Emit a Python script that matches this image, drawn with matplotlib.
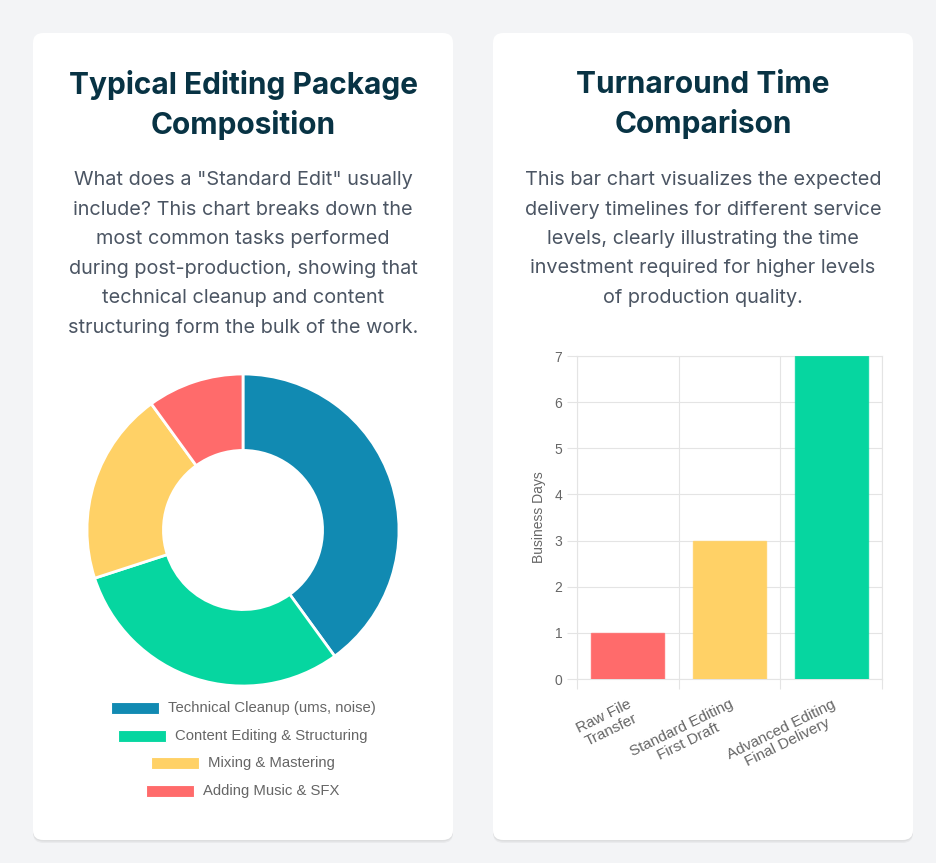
import matplotlib
matplotlib.use("Agg")
import matplotlib.pyplot as plt
from matplotlib.patches import FancyBboxPatch, Rectangle

# ---- data ----
task_labels = ["Technical Cleanup (ums, noise)", "Content Editing & Structuring",
               "Mixing & Mastering", "Adding Music & SFX"]
task_share = [40, 30, 20, 10]
task_colors = ["#118ab2", "#06d6a0", "#ffd166", "#ff6b6b"]

service_labels = ["Raw File\nTransfer", "Standard Editing\nFirst Draft",
                  "Advanced Editing\nFinal Delivery"]
service_days = [1, 3, 7]
service_colors = ["#ff6b6b", "#ffd166", "#06d6a0"]

W, H = 936, 863
BG = "#f3f4f6"
TITLE_C = "#083344"
BODY_C = "#4b5563"
CHART_TXT = "#666666"
GRID_C = "#e4e4e4"


def fx(x):
    return x / W


def fy(y):
    return 1 - y / H


fig = plt.figure(figsize=(W / 100, H / 100), dpi=100, facecolor=BG)

# ---- cards (kept behind the axes) ----
for left in (33, 493):
    for off, a in ((3, 0.04), (1.5, 0.05)):
        sh = FancyBboxPatch((fx(left), fy(840 + off)), fx(420), 807 / H,
                            boxstyle="round,pad=0,rounding_size=0.011",
                            transform=fig.transFigure, facecolor="#000000",
                            edgecolor="none", alpha=a, zorder=-10)
        fig.add_artist(sh)
    card = FancyBboxPatch((fx(left), fy(840)), fx(420), 807 / H,
                          boxstyle="round,pad=0,rounding_size=0.011",
                          transform=fig.transFigure, facecolor="white",
                          edgecolor="none", zorder=-9)
    fig.add_artist(card)

# ---- titles and blurbs ----
title_kw = dict(ha="center", va="center", fontsize=21.5, fontweight="bold",
                color=TITLE_C, family="Inter", linespacing=1.42)
fig.text(fx(243), fy(105), "Typical Editing Package\nComposition", **title_kw)
fig.text(fx(703), fy(105), "Turnaround Time\nComparison", **title_kw)

body_kw = dict(ha="center", va="center", fontsize=14.3, color=BODY_C,
               family="Inter", linespacing=1.82)
fig.text(fx(243), fy(254),
         'What does a "Standard Edit" usually\n'
         "include? This chart breaks down the\n"
         "most common tasks performed\n"
         "during post-production, showing that\n"
         "technical cleanup and content\n"
         "structuring form the bulk of the work.", **body_kw)
fig.text(fx(703), fy(239),
         "This bar chart visualizes the expected\n"
         "delivery timelines for different service\n"
         "levels, clearly illustrating the time\n"
         "investment required for higher levels\n"
         "of production quality.", **body_kw)

# ---- donut ----
cx, cy, r = 243, 530, 156
ax1 = fig.add_axes([fx(cx - r), fy(cy + r), 2 * r / W, 2 * r / H])
ax1.pie(task_share, colors=task_colors, startangle=90, counterclock=False,
        radius=1, wedgeprops=dict(width=0.49, edgecolor="white", linewidth=2))
ax1.set_xlim(-1.0, 1.0)
ax1.set_ylim(-1.0, 1.0)
ax1.set_aspect("equal")
ax1.axis("off")

# legend, one centred row per item (Chart.js style)
fig.canvas.draw()
for i, (lab, col) in enumerate(zip(task_labels, task_colors)):
    yrow = 708 + i * 27.7
    t = fig.text(0, 0, lab, fontsize=10.7, color=CHART_TXT,
                 family="Liberation Sans", va="center")
    tw = t.get_window_extent(renderer=fig.canvas.get_renderer()).width
    total = 48 + 9 + tw
    x0 = cx - total / 2
    t.set_position((fx(x0 + 57), fy(yrow)))
    fig.add_artist(Rectangle((fx(x0), fy(yrow + 6)), 48 / W, 12 / H,
                             transform=fig.transFigure, facecolor=col,
                             edgecolor="white", linewidth=0.8))

# ---- bar chart ----
ax2 = fig.add_axes([fx(577), fy(679), (882 - 577) / W, (679 - 356) / H])
ax2.set_facecolor("none")
xs = range(len(service_days))
ax2.bar(xs, service_days, width=0.72, color=service_colors,
        edgecolor=[c + "cc" for c in service_colors], linewidth=1, zorder=3)
ax2.set_xlim(-0.5, 2.5)
ax2.set_ylim(0, 7)
ax2.set_yticks(range(0, 8))
ax2.set_xticks(list(xs))
ax2.set_xticks([-0.5, 0.5, 1.5, 2.5], minor=True)
ax2.set_xticklabels(service_labels, rotation=26, ha="right", va="top",
                    rotation_mode="anchor", multialignment="center",
                    fontsize=11, color=CHART_TXT, family="Liberation Sans",
                    linespacing=1.1)
ax2.tick_params(axis="x", which="major", length=0, pad=13)
ax2.tick_params(axis="x", which="minor", length=7.5, color=GRID_C, width=0.8)
ax2.tick_params(axis="y", length=7.5, color=GRID_C, width=0.8, pad=3,
                labelsize=10, labelcolor=CHART_TXT)
for lb in ax2.get_yticklabels():
    lb.set_family("Liberation Sans")
ax2.grid(axis="y", color=GRID_C, linewidth=0.8, zorder=0)
ax2.grid(axis="x", which="minor", color=GRID_C, linewidth=0.8, zorder=0)
for s in ax2.spines.values():
    s.set_color(GRID_C)
    s.set_linewidth(0.8)
ax2.set_ylabel("Business Days", fontsize=10, color=CHART_TXT,
               family="Liberation Sans", labelpad=6)

fig.savefig("out.png", dpi=100, facecolor=BG)
